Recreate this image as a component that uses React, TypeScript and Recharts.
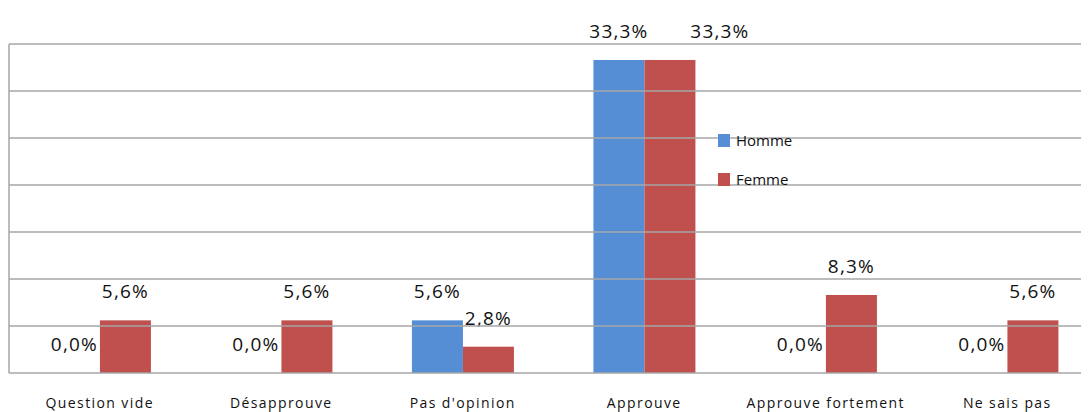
import React from 'react';
import { BarChart, Bar, XAxis, YAxis, CartesianGrid, ReferenceLine } from 'recharts';

const categories = ['Question vide', 'Désapprouve', "Pas d'opinion", 'Approuve', 'Approuve fortement', 'Ne sais pas'];
const homme = [0, 0, 5.6, 33.3, 0, 0];
const femme = [5.6, 5.6, 2.8, 33.3, 8.3, 5.6];
const yTicks = [0, 5, 10, 15, 20, 25, 30, 35];

const data = categories.map((name, i) => ({ name, homme: homme[i], femme: femme[i] }));

const FONT = '"Open Sans", sans-serif';
const GRID = '#a6a6a6';
const fmt = (v: number) => `${v.toFixed(1).replace('.', ',')}%`;

// bar + its value label; a shape is drawn even for zero values
const makeShape = (key: 'homme' | 'femme', color: string) => (props: any) => {
    const { x, y, width, height, index } = props;
    const value = key === 'homme' ? homme[index] : femme[index];
    // Excel nudges the second label right when both labels sit at the same height
    const clash = key === 'femme' && Math.abs(homme[index] - femme[index]) < 1;
    const lx = x + width / 2 + (clash ? 50 : 0);
    return (
        <g>
            {height > 0 && <rect x={x} y={y} width={width} height={height} fill={color} />}
            <text x={lx} y={y - 22} textAnchor="middle" fontFamily={FONT}
                fontSize={19} letterSpacing={1.2} fill="#111">
                {fmt(value)}
            </text>
        </g>
    );
};

const CategoryTick = (props: any) => {
    const { x, y, payload } = props;
    return (
        <text x={x} y={y + 27} textAnchor="middle" fontFamily={FONT}
            fontSize={14} letterSpacing={1.4} fill="#111">
            {payload.value}
        </text>
    );
};

const legendItems = [['Homme', '#558ED5'], ['Femme', '#C0504D']];

export default function App() {
    return (
        <div style={{ position: 'relative', width: 1081, height: 404, overflow: 'hidden' }}>
            <BarChart width={1090} height={404} data={data}
                margin={{ top: 36, right: 0, left: 0, bottom: 0 }}
                barCategoryGap="22%" barGap={0}>
                <CartesianGrid vertical={false} horizontal={false} />
                <XAxis dataKey="name" height={39} interval={0} tickLine={false}
                    axisLine={{ stroke: GRID, strokeWidth: 1.5 }} tick={<CategoryTick />} />
                <YAxis width={1} domain={[0, 35]} ticks={yTicks} tick={false} tickLine={false}
                    axisLine={{ stroke: GRID, strokeWidth: 1.5 }} />
                {yTicks.slice(1).map((t) => (
                    <ReferenceLine key={t} y={t} stroke={GRID} strokeWidth={1.5} />
                ))}
                <Bar dataKey="homme" name="Homme" fill="#558ED5" isAnimationActive={false}
                    shape={makeShape('homme', '#558ED5')} />
                <Bar dataKey="femme" name="Femme" fill="#C0504D" isAnimationActive={false}
                    shape={makeShape('femme', '#C0504D')} />
            </BarChart>
            <div style={{ position: 'absolute', left: 710, top: 125, fontFamily: FONT, fontSize: 15, color: '#111' }}>
                {legendItems.map(([label, color], i) => (
                    <div key={label} style={{ display: 'flex', alignItems: 'center', height: 14, marginBottom: i === 0 ? 25 : 0 }}>
                        <span style={{ width: 12, height: 13, background: color, display: 'inline-block', marginRight: 6 }} />
                        <span>{label}</span>
                    </div>
                ))}
            </div>
        </div>
    );
}
